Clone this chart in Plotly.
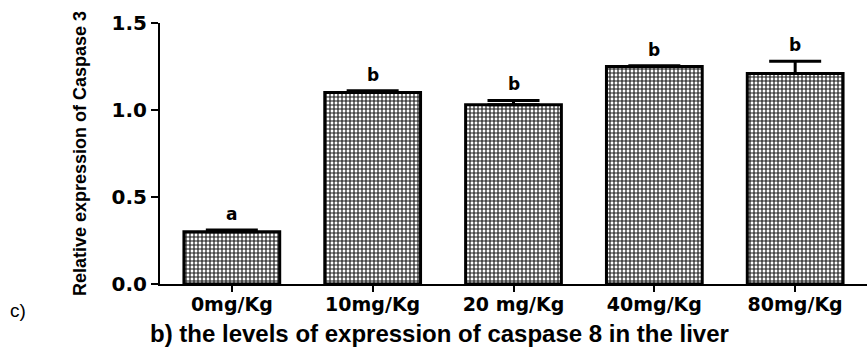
import plotly.graph_objects as go

doses = ["0mg/Kg", "10mg/Kg", "20 mg/Kg", "40mg/Kg", "80mg/Kg"]
means = [0.30, 1.10, 1.03, 1.25, 1.21]
errors = [0.01, 0.01, 0.025, 0.005, 0.07]
letters = ["a", "b", "b", "b", "b"]

SANS = "Liberation Sans, Arial, sans-serif"
WIDE = "DejaVu Sans, Verdana, sans-serif"

fig = go.Figure()
fig.add_trace(go.Bar(
    x=doses,
    y=means,
    width=0.68,
    marker=dict(
        color="white",
        line=dict(color="black", width=3),
        pattern=dict(shape="+", size=4, solidity=0.5,
                     fgcolor="#1a1a1a", bgcolor="white", fillmode="replace"),
    ),
    error_y=dict(type="data", array=errors, symmetric=False,
                 arrayminus=[0] * len(errors),
                 color="black", thickness=3, width=26),
    showlegend=False,
))

for d, m, e, t in zip(doses, means, errors, letters):
    fig.add_annotation(x=d, y=m + e, text=f"<b>{t}</b>", showarrow=False,
                       yanchor="bottom", yshift=4,
                       font=dict(family=WIDE, size=17, color="black"))

fig.add_annotation(xref="paper", yref="paper", x=-0.215, y=-0.1,
                   text="c)", showarrow=False, xanchor="left", yanchor="middle",
                   font=dict(family=SANS, size=19, color="black"))
fig.add_annotation(xref="paper", yref="paper", x=0.395, y=-0.19,
                   text="<b>b) the levels of expression of caspase 8 in the liver</b>",
                   showarrow=False, xanchor="center", yanchor="middle",
                   font=dict(family=SANS, size=24, color="black"))

fig.update_layout(
    width=867, height=354,
    margin=dict(l=160, r=0, t=23, b=70),
    plot_bgcolor="white", paper_bgcolor="white",
    xaxis=dict(
        range=[-0.51, 4.51],
        showline=True, linecolor="black", linewidth=2,
        ticks="outside", ticklen=6, tickwidth=2, tickcolor="black",
        ticklabelstandoff=-4,
        tickfont=dict(family=WIDE, size=19, color="black", weight="bold"),
        showgrid=False, zeroline=False,
    ),
    yaxis=dict(
        range=[0, 1.5],
        tickvals=[0, 0.5, 1.0, 1.5], ticktext=["0.0", "0.5", "1.0", "1.5"],
        showline=True, linecolor="black", linewidth=2,
        ticks="outside", ticklen=7, tickwidth=2, tickcolor="black",
        tickfont=dict(family=WIDE, size=20, color="black", weight="bold"),
        showgrid=False, zeroline=False,
        title=dict(text="Relative expression of Caspase 3", standoff=20,
                   font=dict(family=SANS, size=18, color="black", weight="bold")),
    ),
)

fig.write_html("out.html")
